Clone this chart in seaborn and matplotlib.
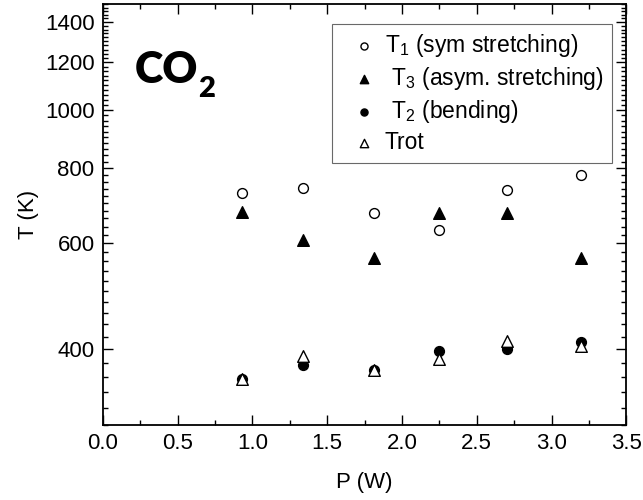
import numpy as np
import pandas as pd
import matplotlib
matplotlib.use("Agg")
import matplotlib.pyplot as plt
from matplotlib.ticker import (FixedLocator, MultipleLocator, NullFormatter,
                               FixedFormatter, FormatStrFormatter)
import seaborn as sns

# ---- data ----
power = [0.93, 1.34, 1.81, 2.25, 2.70, 3.20]
t1_sym = [728, 742, 674, 631, 737, 780]
t3_asym = [676, 607, 568, 675, 675, 567]
t2_bend = [357, 377, 370, 398, 401, 412]
t_rot = [357, 390, 369, 386, 413, 405]

labels = ["T$_1$ (sym stretching)", " T$_3$ (asym. stretching)",
          " T$_2$ (bending)", "Trot"]
y_major = [400, 600, 800, 1000, 1200, 1400]
y_minor = [v for v in range(300, 1501, 20) if v not in y_major]

sns.set_style("ticks")
plt.rcParams["font.family"] = ["Liberation Sans", "DejaVu Sans"]
plt.rcParams["mathtext.fontset"] = "custom"
plt.rcParams["mathtext.rm"] = "Liberation Sans"
plt.rcParams["mathtext.it"] = "Liberation Sans:italic"
plt.rcParams["mathtext.bf"] = "Liberation Sans:bold"
for k in ["text.color", "axes.labelcolor", "xtick.color", "ytick.color",
          "axes.edgecolor"]:
    plt.rcParams[k] = "black"

FS = 16

fig = plt.figure(figsize=(6.43, 5.0), dpi=100)
ax = fig.add_axes([0.160, 0.151, 0.814, 0.841])

common = dict(ax=ax, edgecolor="black", linewidth=1.0, zorder=3)
sns.scatterplot(x=power, y=t1_sym, marker="o", s=50, color="white",
                label=labels[0], **common)
sns.scatterplot(x=power, y=t3_asym, marker="^", s=70, color="black",
                label=labels[1], **common)
sns.scatterplot(x=power, y=t2_bend, marker="o", s=50, color="black",
                label=labels[2], **common)
sns.scatterplot(x=power, y=t_rot, marker="^", s=70, color="white",
                label=labels[3], **common)

ax.set_yscale("log")
ax.set_xlim(0, 3.5)
ax.set_ylim(300, 1500)
ax.xaxis.set_major_locator(MultipleLocator(0.5))
ax.xaxis.set_minor_locator(MultipleLocator(0.25))
ax.xaxis.set_major_formatter(FormatStrFormatter("%.1f"))
ax.yaxis.set_major_locator(FixedLocator(y_major))
ax.yaxis.set_minor_locator(FixedLocator(y_minor))
ax.yaxis.set_major_formatter(FixedFormatter([str(v) for v in y_major]))
ax.yaxis.set_minor_formatter(NullFormatter())

ax.tick_params(which="both", direction="in", top=True, right=True,
               colors="black", labelsize=FS, width=1.0, pad=6)
ax.tick_params(which="major", length=7)
ax.tick_params(which="minor", length=3.5)
for sp in ax.spines.values():
    sp.set_linewidth(1.3)
    sp.set_color("black")

ax.set_xlabel("P (W)", fontsize=FS, labelpad=13)
ax.set_ylabel("T (K)", fontsize=FS, labelpad=4)

co = ax.text(0.061, 0.812, "CO", transform=ax.transAxes, family="Lato",
             fontweight="heavy", fontsize=31, va="baseline", ha="left",
             color="black")
ax.annotate("2", xy=(1, 0), xycoords=co, xytext=(0, -5),
            textcoords="offset points", family="Lato", fontweight="heavy",
            fontsize=21, va="baseline", ha="left", color="black")

leg = ax.legend(loc="upper right", bbox_to_anchor=(0.973, 0.953),
                borderaxespad=0, frameon=True, fancybox=False,
                edgecolor="#444444", fontsize=16.5, markerscale=0.72,
                handletextpad=-0.1, labelspacing=0.26, borderpad=0.38,
                handlelength=2.0)
leg.get_frame().set_linewidth(0.8)

fig.savefig("out.png", dpi=100)
